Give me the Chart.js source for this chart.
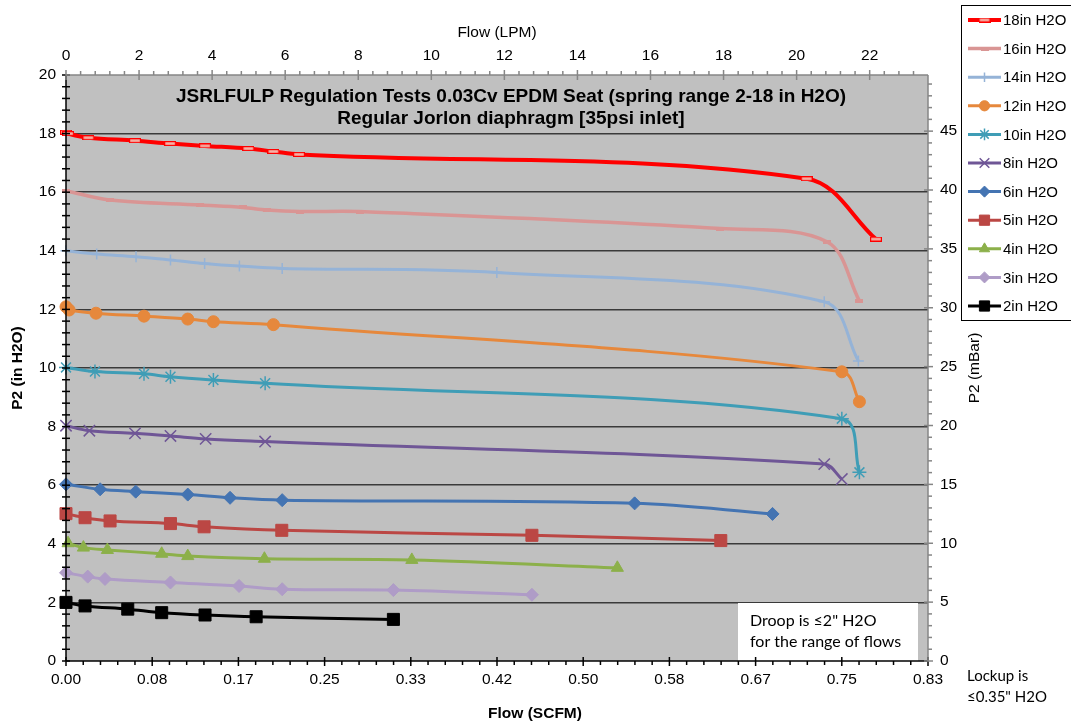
<!DOCTYPE html>
<html>
<head>
<meta charset="utf-8">
<script src="https://cdn.jsdelivr.net/npm/chart.js@4.4.1/dist/chart.umd.min.js"></script>
<style>
  body { margin: 0; background: #fff; }
  #wrap { width: 1071px; height: 724px; }
</style>
</head>
<body>
<div id="wrap"><canvas id="regChart" width="1071" height="724"></canvas></div>
<script>
// flow in SCFM, outlet pressure P2 in inches of water, one pair per spring setting
var scfm18 = [0, 0.002, 0.0216, 0.0667, 0.1006, 0.1344, 0.1763, 0.2005, 0.2253, 0.716, 0.783];
var p18    = [18.05, 18.0, 17.86, 17.76, 17.66, 17.58, 17.49, 17.39, 17.29, 16.46, 14.40];
var scfm16 = [0, 0.0426, 0.13, 0.171, 0.194, 0.226, 0.284, 0.6325, 0.7356, 0.767];
var p16    = [16.05, 15.73, 15.56, 15.48, 15.39, 15.34, 15.34, 14.76, 14.31, 12.29];
var scfm14 = [0, 0.0297, 0.0677, 0.101, 0.134, 0.1676, 0.209, 0.4165, 0.733, 0.766];
var p14    = [14.0, 13.89, 13.80, 13.69, 13.57, 13.48, 13.40, 13.26, 12.26, 10.24];
var scfm12 = [0, 0.003, 0.029, 0.0754, 0.1177, 0.1425, 0.2005, 0.750, 0.767];
var p12    = [12.09, 11.98, 11.87, 11.77, 11.67, 11.58, 11.48, 9.87, 8.85];
var scfm10 = [0, 0.028, 0.0754, 0.101, 0.1425, 0.1925, 0.750, 0.767];
var p10    = [10.02, 9.88, 9.80, 9.70, 9.59, 9.48, 8.27, 6.44];
var scfm8  = [0, 0.0226, 0.0667, 0.101, 0.135, 0.1925, 0.733, 0.750];
var p8     = [8.03, 7.86, 7.77, 7.68, 7.58, 7.49, 6.72, 6.21];
var scfm6  = [0, 0.033, 0.0674, 0.1177, 0.1586, 0.209, 0.5497, 0.683];
var p6     = [6.03, 5.86, 5.78, 5.68, 5.57, 5.49, 5.38, 5.02];
var scfm5  = [0, 0.0184, 0.0426, 0.101, 0.1335, 0.2086, 0.4504, 0.633];
var p5     = [5.03, 4.89, 4.78, 4.69, 4.58, 4.46, 4.29, 4.11];
var scfm4  = [0.002, 0.0168, 0.040, 0.0925, 0.1177, 0.1918, 0.3343, 0.533];
var p4     = [4.02, 3.87, 3.79, 3.66, 3.58, 3.49, 3.45, 3.18];
var scfm3  = [0, 0.021, 0.0377, 0.101, 0.1673, 0.209, 0.3165, 0.4504];
var p3     = [3.01, 2.88, 2.80, 2.68, 2.56, 2.45, 2.42, 2.26];
var scfm2  = [0, 0.0184, 0.0597, 0.0925, 0.1344, 0.1838, 0.3165];
var p2     = [2.0, 1.88, 1.77, 1.65, 1.57, 1.51, 1.42];

var seriesNames = ["18in H2O", "16in H2O", "14in H2O", "12in H2O", "10in H2O", "8in H2O",
                   "6in H2O", "5in H2O", "4in H2O", "3in H2O", "2in H2O"];

// tick labels
var scfmTicks = [0, 0.0833, 0.1667, 0.25, 0.3333, 0.4167, 0.5, 0.5833, 0.6667, 0.75, 0.8333];
var lpmTicks  = [0, 2, 4, 6, 8, 10, 12, 14, 16, 18, 20, 22];
var inTicks   = [0, 2, 4, 6, 8, 10, 12, 14, 16, 18, 20];
var mbarTicks = [0, 5, 10, 15, 20, 25, 30, 35, 40, 45];

var SCFM_MAX = 0.8333;
var LPM_PER_SCFM = 28.317;
var MBAR_PER_IN = 2.4884;

// little flat rectangle marker (like excel's dash marker)
function dashMarker(w, h, stroke, fill) {
  var c = document.createElement('canvas');
  c.width = w; c.height = h;
  var g = c.getContext('2d');
  g.fillStyle = fill;
  g.fillRect(0, 0, w, h);
  g.strokeStyle = stroke;
  g.lineWidth = 1.2;
  g.strokeRect(0.6, 0.6, w - 1.2, h - 1.2);
  return c;
}

function pts(xs, ys) {
  var out = [];
  for (var i = 0; i < xs.length; i++) out.push({x: xs[i], y: ys[i]});
  return out;
}

var styles = [
  {c: "#FF0000", w: 4,   ps: dashMarker(12, 5, "#FF0000", "#F6B3A8"), r: 5, bw: 1},
  {c: "#D99594", w: 3.5, ps: dashMarker(8, 4, "#D99594", "#D99594"), r: 4, bw: 1},
  {c: "#95B3D7", w: 3,   ps: "cross",    r: 5.5, bw: 1.5},
  {c: "#E6883C", w: 3,   ps: "circle",   r: 6, bw: 1},
  {c: "#3F9DB6", w: 3,   ps: "star",     r: 7, bw: 1.5},
  {c: "#6F5696", w: 3,   ps: "crossRot", r: 8, bw: 1.5},
  {c: "#4474B2", w: 3,   ps: "rectRot",  r: 6.5, bw: 1},
  {c: "#BB4744", w: 3,   ps: "rect",     r: 8.5, bw: 1},
  {c: "#8CB04A", w: 3,   ps: "triangle", r: 7, bw: 1},
  {c: "#AF9CC7", w: 3,   ps: "rectRot",  r: 6.5, bw: 1},
  {c: "#000000", w: 3,   ps: "rect",     r: 8.5, bw: 1}
];

var allX = [scfm18, scfm16, scfm14, scfm12, scfm10, scfm8, scfm6, scfm5, scfm4, scfm3, scfm2];
var allY = [p18, p16, p14, p12, p10, p8, p6, p5, p4, p3, p2];

var datasets = [];
for (var i = allX.length - 1; i >= 0; i--) {
  var s = styles[i];
  datasets.push({
    label: seriesNames[i],
    data: pts(allX[i], allY[i]),
    borderColor: s.c,
    backgroundColor: s.c,
    borderWidth: s.w,
    pointStyle: s.ps,
    pointRadius: s.r,
    pointBorderWidth: s.bw,
    pointBorderColor: s.c,
    pointBackgroundColor: s.c,
    tension: 0.35,
    clip: false,
    xAxisID: 'x',
    yAxisID: 'y'
  });
}

function line(ctx, x1, y1, x2, y2) {
  ctx.beginPath(); ctx.moveTo(x1, y1); ctx.lineTo(x2, y2); ctx.stroke();
}

var plotBackground = {
  id: 'plotBackground',
  beforeDraw: function(chart) {
    var a = chart.chartArea, ctx = chart.ctx;
    ctx.save();
    ctx.fillStyle = '#C0C0C0';
    ctx.fillRect(a.left, a.top, a.right - a.left, a.bottom - a.top);
    ctx.restore();
  }
};

var axesAndNotes = {
  id: 'axesAndNotes',
  afterDatasetsDraw: function(chart) {
    var a = chart.chartArea, ctx = chart.ctx, sc = chart.scales;
    ctx.save();
    // droop note box
    ctx.fillStyle = '#fff';
    ctx.fillRect(738, 603, 180, a.bottom - 603);
    ctx.fillStyle = '#000';
    ctx.font = '16px Lato, "Open Sans", sans-serif';
    ctx.textBaseline = 'alphabetic';
    ctx.textAlign = 'left';
    ctx.fillText('Droop is \u22642" H2O', 750, 626);
    ctx.fillText('for the range of flows', 750, 647);

    // title inside plot
    ctx.textAlign = 'center';
    ctx.font = 'bold 19px "Liberation Sans", Arial, sans-serif';
    ctx.fillText('JSRLFULP Regulation Tests 0.03Cv EPDM Seat (spring range 2-18 in H2O)', 511, 102);
    ctx.fillText('Regular Jorlon diaphragm [35psi inlet]', 511, 124);

    // left axis
    var i, y, x;
    ctx.strokeStyle = '#000';
    ctx.lineWidth = 1.5;
    line(ctx, a.left, a.top, a.left, a.bottom);
    for (i = 0; i <= 50; i++) {
      y = sc.y.getPixelForValue(i * 0.4);
      line(ctx, a.left - 4, y, a.left + 4, y);
    }
    // bottom axis
    line(ctx, a.left, a.bottom, a.right, a.bottom);
    for (i = 0; i <= 50; i++) {
      x = sc.x.getPixelForValue(i * SCFM_MAX / 50);
      if (i % 5 === 0) line(ctx, x, a.bottom - 4, x, a.bottom + 5);
      else line(ctx, x, a.bottom, x, a.bottom + 4);
    }
    // top axis (gray)
    ctx.strokeStyle = '#868686';
    line(ctx, a.left, a.top, a.right, a.top);
    for (i = 0; i * 0.4 <= sc.xTop.max; i++) {
      x = sc.xTop.getPixelForValue(i * 0.4);
      if (i % 5 === 0) line(ctx, x, a.top - 5, x, a.top + 5);
      else line(ctx, x, a.top - 4, x, a.top);
    }
    // right axis (gray)
    line(ctx, a.right, a.top, a.right, a.bottom);
    for (i = 0; i <= sc.yRight.max; i++) {
      y = sc.yRight.getPixelForValue(i);
      if (i % 5 === 0) line(ctx, a.right - 4, y, a.right + 5, y);
      else line(ctx, a.right, y, a.right + 4, y);
    }

    // axis titles
    ctx.fillStyle = '#000';
    ctx.textAlign = 'center';
    ctx.textBaseline = 'middle';
    ctx.font = '15.5px "Liberation Sans", Arial, sans-serif';
    ctx.fillText('Flow (LPM)', 497, 33);
    ctx.font = 'bold 15.5px "Liberation Sans", Arial, sans-serif';
    ctx.fillText('Flow (SCFM)', 535, 714);
    ctx.save();
    ctx.translate(18, 368);
    ctx.rotate(-Math.PI / 2);
    ctx.fillText('P2 (in H2O)', 0, 0);
    ctx.restore();
    ctx.save();
    ctx.translate(975, 368);
    ctx.rotate(-Math.PI / 2);
    ctx.font = '15.5px "Liberation Sans", Arial, sans-serif';
    ctx.fillText('P2 (mBar)', 0, 0);
    ctx.restore();

    // lockup note
    ctx.textAlign = 'left';
    ctx.textBaseline = 'alphabetic';
    ctx.font = '15px Lato, "Open Sans", sans-serif';
    ctx.fillText('Lockup is', 967, 681);
    ctx.fillText('\u22640.35" H2O', 967, 702);

    // legend box
    ctx.fillStyle = '#fff';
    ctx.fillRect(961, 5, 110, 316);
    ctx.strokeStyle = '#000';
    ctx.lineWidth = 1;
    ctx.strokeRect(961.5, 5.5, 120, 315);
    ctx.font = '15px "Liberation Sans", Arial, sans-serif';
    ctx.textBaseline = 'middle';
    for (i = 0; i < styles.length; i++) {
      var s = styles[i];
      y = 20 + i * 28.6;
      ctx.strokeStyle = s.c;
      ctx.fillStyle = s.c;
      ctx.lineWidth = s.w;
      line(ctx, 968, y, 1001, y);
      ctx.lineWidth = s.bw;
      if (typeof s.ps === 'string') {
        Chart.helpers.drawPoint(ctx, {pointStyle: s.ps, radius: s.r * 0.85, rotation: 0, borderWidth: s.bw}, 984.5, y);
      } else {
        ctx.drawImage(s.ps, 984.5 - s.ps.width / 2, y - s.ps.height / 2);
      }
      ctx.fillStyle = '#000';
      ctx.fillText(seriesNames[i], 1003, y + 1);
    }
    ctx.restore();
  }
};

var tickFont = {family: '"Liberation Sans", Arial, sans-serif', size: 15.5};

var chart1 = new Chart(document.getElementById('regChart'), {
  type: 'line',
  data: { datasets: datasets },
  options: {
    responsive: false,
    animation: false,
    events: [],
    layout: { padding: 0 },
    plugins: { legend: { display: false }, tooltip: { enabled: false } },
    scales: {
      x: {
        type: 'linear', position: 'bottom', min: 0, max: SCFM_MAX,
        grid: { display: false, drawTicks: false },
        border: { display: false },
        ticks: { padding: 9, color: '#000', font: tickFont, maxRotation: 0,
                 callback: function(v) { return v.toFixed(2); } },
        afterBuildTicks: function(s) { s.ticks = scfmTicks.map(function(v) { return {value: v}; }); },
        afterFit: function(s) { s.height = 63; }
      },
      xTop: {
        type: 'linear', position: 'top', min: 0, max: SCFM_MAX * LPM_PER_SCFM,
        grid: { display: false, drawTicks: false },
        border: { display: false },
        ticks: { padding: 10, color: '#000', font: tickFont, maxRotation: 0 },
        afterBuildTicks: function(s) { s.ticks = lpmTicks.map(function(v) { return {value: v}; }); },
        afterFit: function(s) { s.height = 75; }
      },
      y: {
        type: 'linear', position: 'left', min: 0, max: 20,
        grid: {
          drawTicks: false, lineWidth: 1.5,
          color: function(c) { return (c.tick && (c.tick.value === 0 || c.tick.value === 20)) ? 'rgba(0,0,0,0)' : '#3A3A3A'; }
        },
        border: { display: false },
        ticks: { padding: 10, color: '#000', font: tickFont },
        afterBuildTicks: function(s) { s.ticks = inTicks.map(function(v) { return {value: v}; }); },
        afterFit: function(s) { s.width = 66; }
      },
      yRight: {
        type: 'linear', position: 'right', min: 0, max: 20 * MBAR_PER_IN,
        grid: { display: false, drawTicks: false },
        border: { display: false },
        ticks: { padding: 12, color: '#000', font: tickFont },
        afterBuildTicks: function(s) { s.ticks = mbarTicks.map(function(v) { return {value: v}; }); },
        afterFit: function(s) { s.width = 143; }
      }
    }
  },
  plugins: [plotBackground, axesAndNotes]
});
</script>
</body>
</html>
